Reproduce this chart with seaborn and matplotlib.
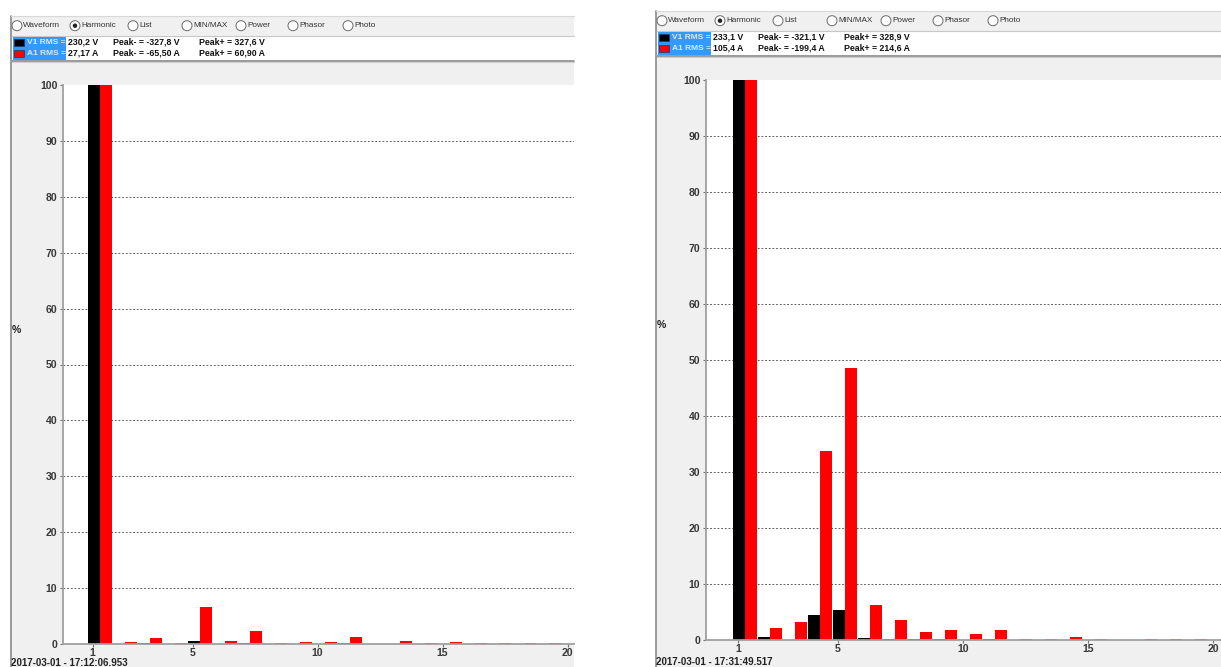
import matplotlib
matplotlib.use("Agg")
import matplotlib.pyplot as plt
from matplotlib.patches import Rectangle, Ellipse
from matplotlib.lines import Line2D
import numpy as np
import pandas as pd
import seaborn as sns

# ---- harmonic spectra (% of fundamental) ----
harmonics = list(range(1, 21))

left_v1 = [100, 0.0, 0.2, 0.0, 0.6, 0.05, 0.25, 0.05, 0.05, 0.05,
           0.15, 0.0, 0.05, 0.0, 0.05, 0.0, 0.0, 0.0, 0.0, 0.0]
left_a1 = [100, 0.35, 1.0, 0.2, 6.7, 0.45, 2.4, 0.25, 0.3, 0.3,
           1.2, 0.0, 0.55, 0.15, 0.3, 0.15, 0.15, 0.15, 0.15, 0.15]

right_v1 = [100, 0.5, 0.0, 4.5, 5.4, 0.4, 0.2, 0.1, 0.15, 0.0,
            0.1, 0.0, 0.0, 0.0, 0.0, 0.0, 0.0, 0.0, 0.0, 0.0]
right_a1 = [100, 2.2, 3.3, 33.8, 48.6, 6.2, 3.6, 1.4, 1.7, 1.1,
            1.85, 0.2, 0.2, 0.5, 0.2, 0.0, 0.1, 0.1, 0.1, 0.1]

channels = ["V1", "A1"]
channel_colors = {"V1": "#000000", "A1": "#ff0000"}

x_tick_harmonics = [1, 5, 10, 15, 20]
y_ticks = list(range(0, 101, 10))

radio_labels = ["Waveform", "Harmonic", "List", "MIN/MAX", "Power", "Phasor", "Photo"]
radio_selected = "Harmonic"

left_info = [("V1 RMS =", "230,2 V", "Peak- = -327,8 V", "Peak+ = 327,6 V"),
             ("A1 RMS =", "27,17 A", "Peak- = -65,50 A", "Peak+ = 60,90 A")]
right_info = [("V1 RMS =", "233,1 V", "Peak- = -321,1 V", "Peak+ = 328,9 V"),
              ("A1 RMS =", "105,4 A", "Peak- = -199,4 A", "Peak+ = 214,6 A")]

left_stamp = "2017-03-01 - 17:12:06.953"
right_stamp = "2017-03-01 - 17:31:49.517"

# ---- figure ----
W, H = 1221, 667
sns.set_theme(style="white")
plt.rcParams["font.family"] = ["Liberation Sans", "DejaVu Sans"]
fig = plt.figure(figsize=(W / 100, H / 100), dpi=100)
fig.patch.set_facecolor("white")

GRAY_BG = "#f0f0f0"
EDGE = "#a0a0a0"


def fx(px):
    return px / W


def fy(py):
    return 1 - py / H


def rect(x0, y0, x1, y1, color, z=0, ec="none", lw=0):
    fig.patches.append(Rectangle((fx(x0), fy(y1)), fx(x1 - x0), (y1 - y0) / H,
                                 transform=fig.transFigure, facecolor=color,
                                 edgecolor=ec, linewidth=lw, zorder=z))


def hline(x0, x1, y, color, lw=1.0, z=2):
    fig.lines.append(Line2D([fx(x0), fx(x1)], [fy(y), fy(y)], transform=fig.transFigure,
                            color=color, linewidth=lw, zorder=z))


def vline(x, y0, y1, color, lw=1.0, z=2):
    fig.lines.append(Line2D([fx(x), fx(x)], [fy(y0), fy(y1)], transform=fig.transFigure,
                            color=color, linewidth=lw, zorder=z))


def window_chrome(ox, oy, right, info, stamp, stamp_y):
    # panel background and frame
    rect(11 + ox, 16 + oy, right, H + 5, GRAY_BG, z=-2)
    vline(11 + ox, 16 + oy, H + 5, "#8a8a8a", lw=1.2)
    hline(11 + ox, right, 16 + oy, "#d8d8d8", lw=0.8)
    # radio button row
    radio_x = [12, 70, 128, 182, 236, 288, 343]
    for lab, rx in zip(radio_labels, radio_x):
        cx, cy = rx + 5 + ox, 25.7 + oy
        fig.patches.append(Ellipse((fx(cx), fy(cy)), 10 / W, 10 / H, transform=fig.transFigure,
                                   facecolor="white", edgecolor="#6a6a6a", linewidth=0.7, zorder=3))
        if lab == radio_selected:
            fig.patches.append(Ellipse((fx(cx), fy(cy)), 4.5 / W, 4.5 / H, transform=fig.transFigure,
                                       facecolor="#222222", edgecolor="none", zorder=4))
        fig.text(fx(cx + 6), fy(cy), lab, fontsize=5.9, color="#333333",
                 ha="left", va="center")
    # info box
    rect(12 + ox, 36 + oy, right, 61 + oy, "white", z=1)
    hline(12 + ox, right, 36.3 + oy, "#c8c8c8", lw=0.8)
    hline(12 + ox, right, 61 + oy, "#9a9a9a", lw=1.4)
    hline(12 + ox, right, 62.3 + oy, "#d0d0d0", lw=0.8)
    rect(13 + ox, 37 + oy, 66 + ox, 60 + oy, "#3399ff", z=2)
    for row, (name, rms, pk_neg, pk_pos) in enumerate(info):
        cy = 42.3 + 11 * row + oy
        sw = channel_colors[name[:2]]
        rect(14 + ox, cy - 3.5, 24 + ox, cy + 3.5, sw, z=3, ec="#1a3a6a", lw=0.5)
        fig.text(fx(27 + ox), fy(cy), name, fontsize=6.0, fontweight="bold",
                 color="#d8ebff", ha="left", va="center", zorder=4)
        fig.text(fx(68 + ox), fy(cy), rms, fontsize=6.3, fontweight="bold",
                 color="#111111", ha="left", va="center")
        fig.text(fx(113 + ox), fy(cy), pk_neg, fontsize=6.3, fontweight="bold",
                 color="#111111", ha="left", va="center")
        fig.text(fx(199 + ox), fy(cy), pk_pos, fontsize=6.3, fontweight="bold",
                 color="#111111", ha="left", va="center")
    # y axis unit and time stamp
    fig.text(fx(16 + ox), fy(330 + oy), "%", fontsize=7.5, fontweight="bold",
             color="#222222", ha="center", va="center")
    fig.text(fx(11 + ox), fy(stamp_y), stamp, fontsize=7.0, fontweight="bold",
             color="#222222", ha="left", va="bottom")


def spectrum(ax_box, v1, a1, xlim):
    x0, y0, x1, y1 = ax_box
    ax = fig.add_axes([fx(x0), fy(y1), fx(x1 - x0), (y1 - y0) / H])
    ax.set_zorder(10)
    df = pd.DataFrame({
        "harmonic": harmonics * 2,
        "channel": ["V1"] * len(harmonics) + ["A1"] * len(harmonics),
        "pct": list(v1) + list(a1),
    })
    sns.barplot(data=df, x="harmonic", y="pct", hue="channel", hue_order=channels,
                palette=channel_colors, width=0.96, dodge=True, saturation=1,
                errorbar=None, legend=False, linewidth=0, ax=ax)
    ax.set_facecolor("white")
    ax.set_ylim(0, 100)
    ax.set_xlim(*xlim)
    ax.set_yticks(y_ticks, labels=[str(t) for t in y_ticks])
    ax.set_xticks([harmonics.index(h) - 0.28 for h in x_tick_harmonics],
                  labels=[str(h) for h in x_tick_harmonics])
    ax.set_xlabel("")
    ax.set_ylabel("")
    ax.set_axisbelow(True)
    ax.yaxis.grid(True, color="#444444", linestyle=(0, (2.2, 2.2)), linewidth=0.6)
    ax.xaxis.grid(False)
    grid = ax.get_ygridlines()
    grid[0].set_visible(False)
    grid[-1].set_visible(False)
    for side in ("top", "right"):
        ax.spines[side].set_visible(False)
    for side in ("left", "bottom"):
        ax.spines[side].set_visible(True)
        ax.spines[side].set_color(EDGE)
        ax.spines[side].set_linewidth(1.3)
    ax.tick_params(axis="both", which="major", direction="out", length=2.5, width=0.8,
                   color="#707070", labelsize=7.6, labelcolor="#383838",
                   left=True, bottom=True)
    ax.tick_params(axis="y", pad=1.5)
    ax.tick_params(axis="x", pad=0.5)
    for lab in ax.get_xticklabels() + ax.get_yticklabels():
        lab.set_fontweight("bold")
    return ax


# left screenshot
window_chrome(0, 0, 574, left_info, left_stamp, 667.5)
spectrum((63, 85, 574, 644), left_v1, left_a1, (-1.46, 18.98))

# right screenshot
window_chrome(645, -5, W + 5, right_info, right_stamp, 667)
spectrum((706, 80, W, 640), right_v1, right_a1, (-1.56, 19.04))

fig.savefig("out.png", dpi=100, facecolor="white")
